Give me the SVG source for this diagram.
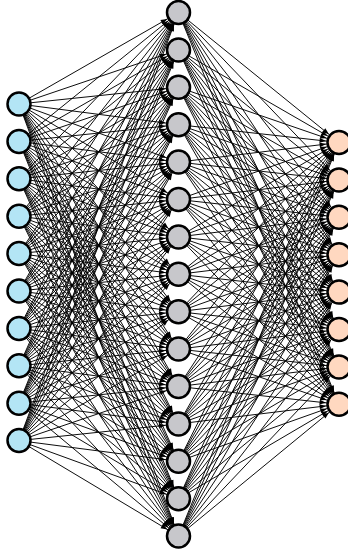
<svg xmlns="http://www.w3.org/2000/svg" width="348" height="552" viewBox="0 0 348 552">
<style>
.e path{fill:none;stroke:#000;stroke-width:0.95;marker-end:url(#ah)}
.n circle{stroke:#000;stroke-width:2.5}
.in circle{fill:#b3e5f5}
.hid circle{fill:#c7c7cb}
.out circle{fill:#ffd8c0}
</style>
<defs>
<marker id="ah" markerUnits="userSpaceOnUse" refX="13" refY="0" markerWidth="10" markerHeight="10" orient="auto" overflow="visible">
<path d="M-6.5,-2.4L0,0L-6.5,2.4z" fill="#000"/>
</marker>
</defs>
<rect width="348" height="552" fill="#fff"/>
<g id="connectors" class="e">
<g id="e-in1">
<path d="M19 104L178.5 12.5"/><path d="M19 104L178.5 49.9"/><path d="M19 104L178.5 87.3"/><path d="M19 104L178.5 124.7"/><path d="M19 104L178.5 162.1"/><path d="M19 104L178.5 199.5"/><path d="M19 104L178.5 236.9"/><path d="M19 104L178.5 274.3"/><path d="M19 104L178.5 311.7"/><path d="M19 104L178.5 349.1"/><path d="M19 104L178.5 386.5"/><path d="M19 104L178.5 423.9"/><path d="M19 104L178.5 461.3"/><path d="M19 104L178.5 498.7"/><path d="M19 104L178.5 536.1"/>
</g>
<g id="e-in2">
<path d="M19 141.4L178.5 12.5"/><path d="M19 141.4L178.5 49.9"/><path d="M19 141.4L178.5 87.3"/><path d="M19 141.4L178.5 124.7"/><path d="M19 141.4L178.5 162.1"/><path d="M19 141.4L178.5 199.5"/><path d="M19 141.4L178.5 236.9"/><path d="M19 141.4L178.5 274.3"/><path d="M19 141.4L178.5 311.7"/><path d="M19 141.4L178.5 349.1"/><path d="M19 141.4L178.5 386.5"/><path d="M19 141.4L178.5 423.9"/><path d="M19 141.4L178.5 461.3"/><path d="M19 141.4L178.5 498.7"/><path d="M19 141.4L178.5 536.1"/>
</g>
<g id="e-in3">
<path d="M19 178.8L178.5 12.5"/><path d="M19 178.8L178.5 49.9"/><path d="M19 178.8L178.5 87.3"/><path d="M19 178.8L178.5 124.7"/><path d="M19 178.8L178.5 162.1"/><path d="M19 178.8L178.5 199.5"/><path d="M19 178.8L178.5 236.9"/><path d="M19 178.8L178.5 274.3"/><path d="M19 178.8L178.5 311.7"/><path d="M19 178.8L178.5 349.1"/><path d="M19 178.8L178.5 386.5"/><path d="M19 178.8L178.5 423.9"/><path d="M19 178.8L178.5 461.3"/><path d="M19 178.8L178.5 498.7"/><path d="M19 178.8L178.5 536.1"/>
</g>
<g id="e-in4">
<path d="M19 216.2L178.5 12.5"/><path d="M19 216.2L178.5 49.9"/><path d="M19 216.2L178.5 87.3"/><path d="M19 216.2L178.5 124.7"/><path d="M19 216.2L178.5 162.1"/><path d="M19 216.2L178.5 199.5"/><path d="M19 216.2L178.5 236.9"/><path d="M19 216.2L178.5 274.3"/><path d="M19 216.2L178.5 311.7"/><path d="M19 216.2L178.5 349.1"/><path d="M19 216.2L178.5 386.5"/><path d="M19 216.2L178.5 423.9"/><path d="M19 216.2L178.5 461.3"/><path d="M19 216.2L178.5 498.7"/><path d="M19 216.2L178.5 536.1"/>
</g>
<g id="e-in5">
<path d="M19 253.6L178.5 12.5"/><path d="M19 253.6L178.5 49.9"/><path d="M19 253.6L178.5 87.3"/><path d="M19 253.6L178.5 124.7"/><path d="M19 253.6L178.5 162.1"/><path d="M19 253.6L178.5 199.5"/><path d="M19 253.6L178.5 236.9"/><path d="M19 253.6L178.5 274.3"/><path d="M19 253.6L178.5 311.7"/><path d="M19 253.6L178.5 349.1"/><path d="M19 253.6L178.5 386.5"/><path d="M19 253.6L178.5 423.9"/><path d="M19 253.6L178.5 461.3"/><path d="M19 253.6L178.5 498.7"/><path d="M19 253.6L178.5 536.1"/>
</g>
<g id="e-in6">
<path d="M19 291L178.5 12.5"/><path d="M19 291L178.5 49.9"/><path d="M19 291L178.5 87.3"/><path d="M19 291L178.5 124.7"/><path d="M19 291L178.5 162.1"/><path d="M19 291L178.5 199.5"/><path d="M19 291L178.5 236.9"/><path d="M19 291L178.5 274.3"/><path d="M19 291L178.5 311.7"/><path d="M19 291L178.5 349.1"/><path d="M19 291L178.5 386.5"/><path d="M19 291L178.5 423.9"/><path d="M19 291L178.5 461.3"/><path d="M19 291L178.5 498.7"/><path d="M19 291L178.5 536.1"/>
</g>
<g id="e-in7">
<path d="M19 328.4L178.5 12.5"/><path d="M19 328.4L178.5 49.9"/><path d="M19 328.4L178.5 87.3"/><path d="M19 328.4L178.5 124.7"/><path d="M19 328.4L178.5 162.1"/><path d="M19 328.4L178.5 199.5"/><path d="M19 328.4L178.5 236.9"/><path d="M19 328.4L178.5 274.3"/><path d="M19 328.4L178.5 311.7"/><path d="M19 328.4L178.5 349.1"/><path d="M19 328.4L178.5 386.5"/><path d="M19 328.4L178.5 423.9"/><path d="M19 328.4L178.5 461.3"/><path d="M19 328.4L178.5 498.7"/><path d="M19 328.4L178.5 536.1"/>
</g>
<g id="e-in8">
<path d="M19 365.8L178.5 12.5"/><path d="M19 365.8L178.5 49.9"/><path d="M19 365.8L178.5 87.3"/><path d="M19 365.8L178.5 124.7"/><path d="M19 365.8L178.5 162.1"/><path d="M19 365.8L178.5 199.5"/><path d="M19 365.8L178.5 236.9"/><path d="M19 365.8L178.5 274.3"/><path d="M19 365.8L178.5 311.7"/><path d="M19 365.8L178.5 349.1"/><path d="M19 365.8L178.5 386.5"/><path d="M19 365.8L178.5 423.9"/><path d="M19 365.8L178.5 461.3"/><path d="M19 365.8L178.5 498.7"/><path d="M19 365.8L178.5 536.1"/>
</g>
<g id="e-in9">
<path d="M19 403.2L178.5 12.5"/><path d="M19 403.2L178.5 49.9"/><path d="M19 403.2L178.5 87.3"/><path d="M19 403.2L178.5 124.7"/><path d="M19 403.2L178.5 162.1"/><path d="M19 403.2L178.5 199.5"/><path d="M19 403.2L178.5 236.9"/><path d="M19 403.2L178.5 274.3"/><path d="M19 403.2L178.5 311.7"/><path d="M19 403.2L178.5 349.1"/><path d="M19 403.2L178.5 386.5"/><path d="M19 403.2L178.5 423.9"/><path d="M19 403.2L178.5 461.3"/><path d="M19 403.2L178.5 498.7"/><path d="M19 403.2L178.5 536.1"/>
</g>
<g id="e-in10">
<path d="M19 440.6L178.5 12.5"/><path d="M19 440.6L178.5 49.9"/><path d="M19 440.6L178.5 87.3"/><path d="M19 440.6L178.5 124.7"/><path d="M19 440.6L178.5 162.1"/><path d="M19 440.6L178.5 199.5"/><path d="M19 440.6L178.5 236.9"/><path d="M19 440.6L178.5 274.3"/><path d="M19 440.6L178.5 311.7"/><path d="M19 440.6L178.5 349.1"/><path d="M19 440.6L178.5 386.5"/><path d="M19 440.6L178.5 423.9"/><path d="M19 440.6L178.5 461.3"/><path d="M19 440.6L178.5 498.7"/><path d="M19 440.6L178.5 536.1"/>
</g>
<g id="e-h1"><path d="M178.5 12.5L339 142.5"/><path d="M178.5 12.5L339 179.9"/><path d="M178.5 12.5L339 217.3"/><path d="M178.5 12.5L339 254.7"/><path d="M178.5 12.5L339 292.1"/><path d="M178.5 12.5L339 329.5"/><path d="M178.5 12.5L339 366.9"/><path d="M178.5 12.5L339 404.3"/></g>
<g id="e-h2"><path d="M178.5 49.9L339 142.5"/><path d="M178.5 49.9L339 179.9"/><path d="M178.5 49.9L339 217.3"/><path d="M178.5 49.9L339 254.7"/><path d="M178.5 49.9L339 292.1"/><path d="M178.5 49.9L339 329.5"/><path d="M178.5 49.9L339 366.9"/><path d="M178.5 49.9L339 404.3"/></g>
<g id="e-h3"><path d="M178.5 87.3L339 142.5"/><path d="M178.5 87.3L339 179.9"/><path d="M178.5 87.3L339 217.3"/><path d="M178.5 87.3L339 254.7"/><path d="M178.5 87.3L339 292.1"/><path d="M178.5 87.3L339 329.5"/><path d="M178.5 87.3L339 366.9"/><path d="M178.5 87.3L339 404.3"/></g>
<g id="e-h4"><path d="M178.5 124.7L339 142.5"/><path d="M178.5 124.7L339 179.9"/><path d="M178.5 124.7L339 217.3"/><path d="M178.5 124.7L339 254.7"/><path d="M178.5 124.7L339 292.1"/><path d="M178.5 124.7L339 329.5"/><path d="M178.5 124.7L339 366.9"/><path d="M178.5 124.7L339 404.3"/></g>
<g id="e-h5"><path d="M178.5 162.1L339 142.5"/><path d="M178.5 162.1L339 179.9"/><path d="M178.5 162.1L339 217.3"/><path d="M178.5 162.1L339 254.7"/><path d="M178.5 162.1L339 292.1"/><path d="M178.5 162.1L339 329.5"/><path d="M178.5 162.1L339 366.9"/><path d="M178.5 162.1L339 404.3"/></g>
<g id="e-h6"><path d="M178.5 199.5L339 142.5"/><path d="M178.5 199.5L339 179.9"/><path d="M178.5 199.5L339 217.3"/><path d="M178.5 199.5L339 254.7"/><path d="M178.5 199.5L339 292.1"/><path d="M178.5 199.5L339 329.5"/><path d="M178.5 199.5L339 366.9"/><path d="M178.5 199.5L339 404.3"/></g>
<g id="e-h7"><path d="M178.5 236.9L339 142.5"/><path d="M178.5 236.9L339 179.9"/><path d="M178.5 236.9L339 217.3"/><path d="M178.5 236.9L339 254.7"/><path d="M178.5 236.9L339 292.1"/><path d="M178.5 236.9L339 329.5"/><path d="M178.5 236.9L339 366.9"/><path d="M178.5 236.9L339 404.3"/></g>
<g id="e-h8"><path d="M178.5 274.3L339 142.5"/><path d="M178.5 274.3L339 179.9"/><path d="M178.5 274.3L339 217.3"/><path d="M178.5 274.3L339 254.7"/><path d="M178.5 274.3L339 292.1"/><path d="M178.5 274.3L339 329.5"/><path d="M178.5 274.3L339 366.9"/><path d="M178.5 274.3L339 404.3"/></g>
<g id="e-h9"><path d="M178.5 311.7L339 142.5"/><path d="M178.5 311.7L339 179.9"/><path d="M178.5 311.7L339 217.3"/><path d="M178.5 311.7L339 254.7"/><path d="M178.5 311.7L339 292.1"/><path d="M178.5 311.7L339 329.5"/><path d="M178.5 311.7L339 366.9"/><path d="M178.5 311.7L339 404.3"/></g>
<g id="e-h10"><path d="M178.5 349.1L339 142.5"/><path d="M178.5 349.1L339 179.9"/><path d="M178.5 349.1L339 217.3"/><path d="M178.5 349.1L339 254.7"/><path d="M178.5 349.1L339 292.1"/><path d="M178.5 349.1L339 329.5"/><path d="M178.5 349.1L339 366.9"/><path d="M178.5 349.1L339 404.3"/></g>
<g id="e-h11"><path d="M178.5 386.5L339 142.5"/><path d="M178.5 386.5L339 179.9"/><path d="M178.5 386.5L339 217.3"/><path d="M178.5 386.5L339 254.7"/><path d="M178.5 386.5L339 292.1"/><path d="M178.5 386.5L339 329.5"/><path d="M178.5 386.5L339 366.9"/><path d="M178.5 386.5L339 404.3"/></g>
<g id="e-h12"><path d="M178.5 423.9L339 142.5"/><path d="M178.5 423.9L339 179.9"/><path d="M178.5 423.9L339 217.3"/><path d="M178.5 423.9L339 254.7"/><path d="M178.5 423.9L339 292.1"/><path d="M178.5 423.9L339 329.5"/><path d="M178.5 423.9L339 366.9"/><path d="M178.5 423.9L339 404.3"/></g>
<g id="e-h13"><path d="M178.5 461.3L339 142.5"/><path d="M178.5 461.3L339 179.9"/><path d="M178.5 461.3L339 217.3"/><path d="M178.5 461.3L339 254.7"/><path d="M178.5 461.3L339 292.1"/><path d="M178.5 461.3L339 329.5"/><path d="M178.5 461.3L339 366.9"/><path d="M178.5 461.3L339 404.3"/></g>
<g id="e-h14"><path d="M178.5 498.7L339 142.5"/><path d="M178.5 498.7L339 179.9"/><path d="M178.5 498.7L339 217.3"/><path d="M178.5 498.7L339 254.7"/><path d="M178.5 498.7L339 292.1"/><path d="M178.5 498.7L339 329.5"/><path d="M178.5 498.7L339 366.9"/><path d="M178.5 498.7L339 404.3"/></g>
<g id="e-h15"><path d="M178.5 536.1L339 142.5"/><path d="M178.5 536.1L339 179.9"/><path d="M178.5 536.1L339 217.3"/><path d="M178.5 536.1L339 254.7"/><path d="M178.5 536.1L339 292.1"/><path d="M178.5 536.1L339 329.5"/><path d="M178.5 536.1L339 366.9"/><path d="M178.5 536.1L339 404.3"/></g>
</g>
<g class="n in">
<g id="in1"><circle cx="19" cy="104" r="11.5"/></g>
<g id="in2"><circle cx="19" cy="141.4" r="11.5"/></g>
<g id="in3"><circle cx="19" cy="178.8" r="11.5"/></g>
<g id="in4"><circle cx="19" cy="216.2" r="11.5"/></g>
<g id="in5"><circle cx="19" cy="253.6" r="11.5"/></g>
<g id="in6"><circle cx="19" cy="291" r="11.5"/></g>
<g id="in7"><circle cx="19" cy="328.4" r="11.5"/></g>
<g id="in8"><circle cx="19" cy="365.8" r="11.5"/></g>
<g id="in9"><circle cx="19" cy="403.2" r="11.5"/></g>
<g id="in10"><circle cx="19" cy="440.6" r="11.5"/></g>
</g>
<g class="n hid">
<g id="h1"><circle cx="178.5" cy="12.5" r="11.5"/></g>
<g id="h2"><circle cx="178.5" cy="49.9" r="11.5"/></g>
<g id="h3"><circle cx="178.5" cy="87.3" r="11.5"/></g>
<g id="h4"><circle cx="178.5" cy="124.7" r="11.5"/></g>
<g id="h5"><circle cx="178.5" cy="162.1" r="11.5"/></g>
<g id="h6"><circle cx="178.5" cy="199.5" r="11.5"/></g>
<g id="h7"><circle cx="178.5" cy="236.9" r="11.5"/></g>
<g id="h8"><circle cx="178.5" cy="274.3" r="11.5"/></g>
<g id="h9"><circle cx="178.5" cy="311.7" r="11.5"/></g>
<g id="h10"><circle cx="178.5" cy="349.1" r="11.5"/></g>
<g id="h11"><circle cx="178.5" cy="386.5" r="11.5"/></g>
<g id="h12"><circle cx="178.5" cy="423.9" r="11.5"/></g>
<g id="h13"><circle cx="178.5" cy="461.3" r="11.5"/></g>
<g id="h14"><circle cx="178.5" cy="498.7" r="11.5"/></g>
<g id="h15"><circle cx="178.5" cy="536.1" r="11.5"/></g>
</g>
<g class="n out">
<g id="out1"><circle cx="339" cy="142.5" r="11.5"/></g>
<g id="out2"><circle cx="339" cy="179.9" r="11.5"/></g>
<g id="out3"><circle cx="339" cy="217.3" r="11.5"/></g>
<g id="out4"><circle cx="339" cy="254.7" r="11.5"/></g>
<g id="out5"><circle cx="339" cy="292.1" r="11.5"/></g>
<g id="out6"><circle cx="339" cy="329.5" r="11.5"/></g>
<g id="out7"><circle cx="339" cy="366.9" r="11.5"/></g>
<g id="out8"><circle cx="339" cy="404.3" r="11.5"/></g>
</g>
</svg>
